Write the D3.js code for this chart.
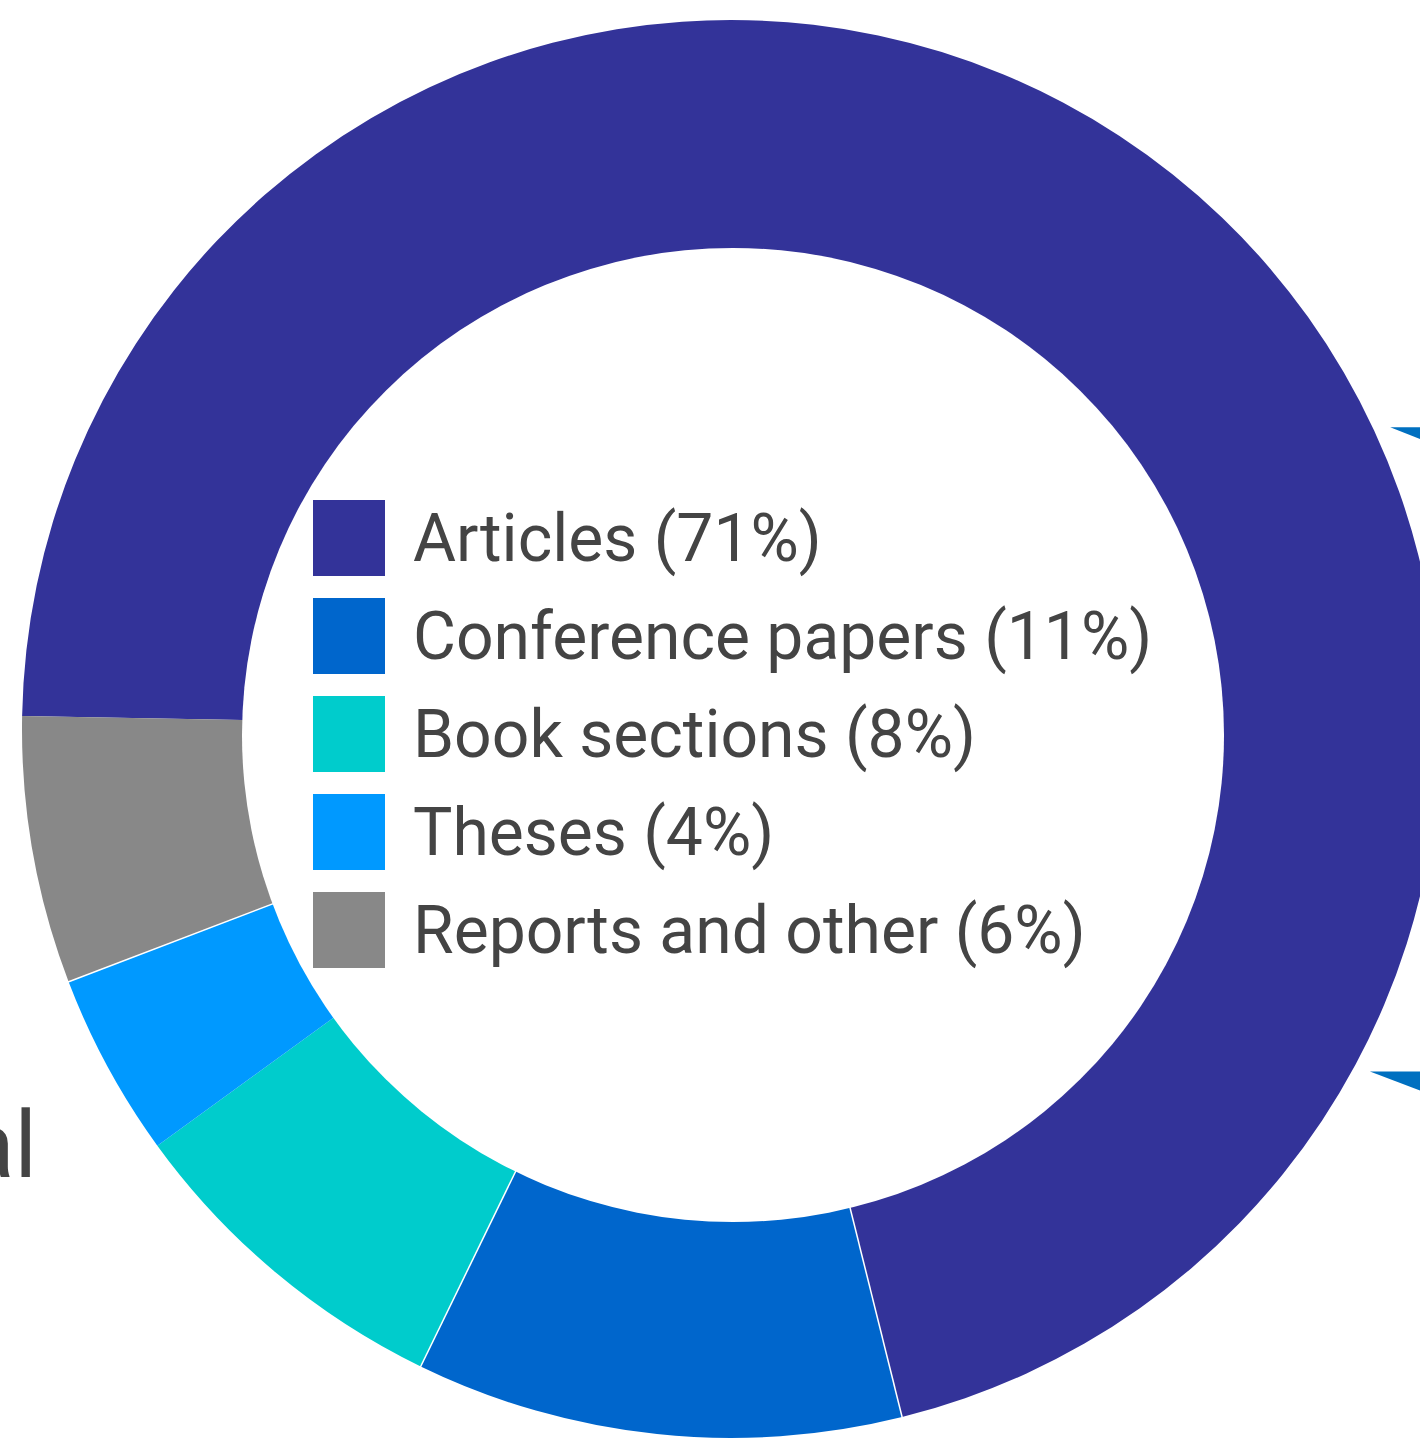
<!DOCTYPE html>
<html>

<head>
    <meta charset="utf-8">
    <title>Publication types</title>
    <style>
        html, body { margin: 0; padding: 0; background: #fff; overflow: hidden; }
    </style>
</head>

<body>
    <script src="https://d3js.org/d3.v7.min.js"></script>
    <script>
    // Data
    const categories = ["Articles", "Conference papers", "Book sections", "Theses", "Reports and other"];
    const shares = [70.9, 11.1, 7.8, 4.2, 6.1];        // slice sizes (deg / 3.6)
    const labelPct = [71, 11, 8, 4, 6];                 // percentages printed in the legend
    const colors = ["#333399", "#0066cc", "#00cccc", "#0099ff", "#888888"];
    // slices that have a thin white seam after them
    const seamAfter = ["Articles", "Conference papers", "Theses"];

    // Dimensions
    const width = 1420;
    const height = 1445;
    const cx = 731, cy = 729;
    const outerR = 709;
    const innerR = 440;              // hole is finished by the white ellipse below
    const startDeg = -88.95;

    const svg = d3.select("body")
        .append("svg")
        .attr("width", width)
        .attr("height", height);

    const g = svg.append("g")
        .attr("transform", `translate(${cx},${cy})`);

    const data = categories.map((c, i) => ({ name: c, value: shares[i], pct: labelPct[i], color: colors[i] }));

    const pie = d3.pie()
        .sort(null)
        .value(d => d.value)
        .startAngle(startDeg * Math.PI / 180)
        .endAngle((startDeg + 360) * Math.PI / 180);

    const arc = d3.arc()
        .innerRadius(innerR)
        .outerRadius(outerR);

    const arcs = pie(data);

    g.selectAll("path.slice")
        .data(arcs)
        .enter()
        .append("path")
        .attr("class", "slice")
        .attr("d", arc)
        .attr("fill", d => d.data.color);

    // white seams
    g.selectAll("line.seam")
        .data(arcs.filter(d => seamAfter.includes(d.data.name)))
        .enter()
        .append("line")
        .attr("class", "seam")
        .attr("x1", d => Math.sin(d.endAngle) * innerR)
        .attr("y1", d => -Math.cos(d.endAngle) * innerR)
        .attr("x2", d => Math.sin(d.endAngle) * (outerR + 2))
        .attr("y2", d => -Math.cos(d.endAngle) * (outerR + 2))
        .attr("stroke", "#fff")
        .attr("stroke-width", 1.5);

    // the hole sits a little low and is slightly wider than tall
    svg.append("ellipse")
        .attr("cx", 733)
        .attr("cy", 735)
        .attr("rx", 491)
        .attr("ry", 487)
        .attr("fill", "#fff");

    // pointers peeking in from the right edge (part of a neighbouring graphic)
    const pointerDeg = [65.4, 118.2];
    const pointerSlope = [0.4, 0.38];
    const tipR = outerR + 16;
    g.selectAll("path.pointer")
        .data(pointerDeg)
        .enter()
        .append("path")
        .attr("class", "pointer")
        .attr("d", (a, i) => {
            const t = a * Math.PI / 180;
            const x = Math.sin(t) * tipR, y = -Math.cos(t) * tipR;
            const len = 200;
            return `M${x},${y}L${x + len},${y}L${x + len},${y + len * pointerSlope[i]}Z`;
        })
        .attr("fill", "#0070c0");

    // legend
    const legend = svg.append("g")
        .attr("transform", "translate(313,500)");

    const rows = legend.selectAll("g.row")
        .data(data)
        .enter()
        .append("g")
        .attr("class", "row")
        .attr("transform", (d, i) => `translate(0,${i * 98})`);

    rows.append("rect")
        .attr("width", 72)
        .attr("height", 76)
        .attr("fill", d => d.color);

    rows.append("text")
        .attr("x", 100)
        .attr("y", 61)
        .attr("font-family", "Roboto, 'DejaVu Sans', sans-serif")
        .attr("font-size", 66)
        .attr("fill", "#444444")
        .text(d => `${d.name} (${d.pct}%)`);

    // label of a neighbouring graphic, cut off by the left edge
    svg.append("text")
        .attr("x", 37)
        .attr("y", 1177)
        .attr("text-anchor", "end")
        .attr("font-family", "Roboto, 'DejaVu Sans', sans-serif")
        .attr("font-size", 92)
        .attr("fill", "#444444")
        .text("Total");
    </script>
</body>

</html>
